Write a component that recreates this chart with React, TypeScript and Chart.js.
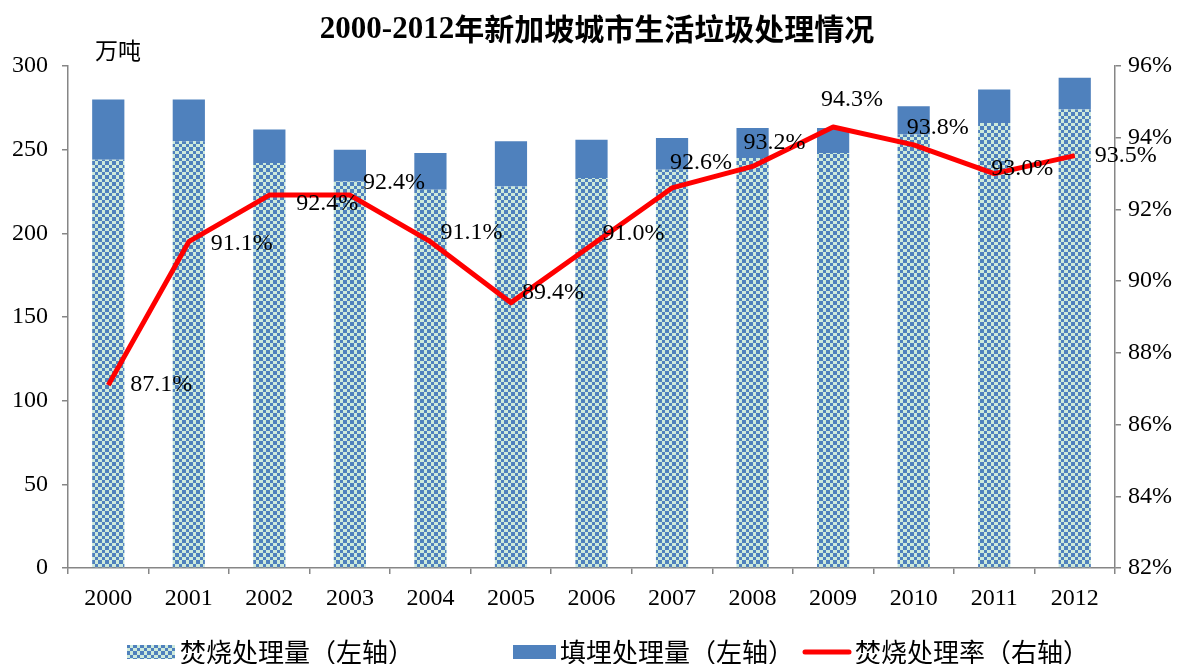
import React, { useEffect, useRef } from "react";
import { Chart, registerables } from "chart.js";

Chart.register(...registerables);

const years = ["2000", "2001", "2002", "2003", "2004", "2005", "2006", "2007", "2008", "2009", "2010", "2011", "2012"];
const incineration = [244, 255, 242, 231, 226, 228, 233, 238, 245, 248, 259, 266, 274];
const landfill = [36, 25, 20, 19, 22, 27, 23, 19, 18, 15, 17, 20, 19];
const incinerationRate = [87.1, 91.1, 92.4, 92.4, 91.1, 89.4, 91.0, 92.6, 93.2, 94.3, 93.8, 93.0, 93.5];

const titleYears = "2000-2012";
const titleText = "年新加坡城市生活垃圾处理情况";
const unitLabel = "万吨";
const seriesNames = ["焚烧处理量（左轴）", "填埋处理量（左轴）", "焚烧处理率（右轴）"];

// label placement relative to each line point (dx, dy) in px
const labelOffsets: [number, number][] = [
  [22, 0], [22, 2], [27, 9], [13, -12], [10, -9], [11, -10], [11, -12],
  [-2, -25], [-9, -24], [-12, -27], [-7, -17], [-3, -5], [20, 0],
];

const SERIF = '"Liberation Serif", "Times New Roman", serif';
const CJK = '"Noto Sans CJK SC", "Noto Sans CJK JP", sans-serif';
const BLUE = "#4f81bd";
const LIGHT = "#cdeadb";
const RED = "#ff0000";
const AXIS = "#868686";

function makePattern(ctx: CanvasRenderingContext2D) {
  const c = document.createElement("canvas");
  c.width = 14;
  c.height = 14;
  const p = c.getContext("2d")!;
  p.fillStyle = LIGHT;
  p.fillRect(0, 0, 14, 14);
  p.fillStyle = BLUE;
  const edges = [0, 4, 7, 11, 14];
  for (let i = 0; i < 4; i++) {
    for (let j = 0; j < 4; j++) {
      if ((i + j) % 2 === 0) {
        p.fillRect(edges[i], edges[j], edges[i + 1] - edges[i], edges[j + 1] - edges[j]);
      }
    }
  }
  return ctx.createPattern(c, "repeat")!;
}

export default function App() {
  const ref = useRef<HTMLCanvasElement>(null);

  useEffect(() => {
    const canvas = ref.current!;
    const ctx = canvas.getContext("2d")!;
    const pattern = makePattern(ctx);

    const decorPlugin = {
      id: "decor",
      afterDraw(chart: any) {
        const c = chart.ctx as CanvasRenderingContext2D;
        c.save();
        // title (serif digits + CJK)
        c.fillStyle = "#000";
        c.textBaseline = "middle";
        c.textAlign = "left";
        const f1 = "bold 31px " + SERIF;
        const f2 = "bold 30px " + CJK;
        c.font = f1;
        const w1 = c.measureText(titleYears).width;
        c.font = f2;
        const w2 = c.measureText(titleText).width;
        const x0 = 597 - (w1 + w2) / 2;
        c.font = f1;
        c.fillText(titleYears, x0, 30);
        c.font = f2;
        c.fillText(titleText, x0 + w1, 29);
        // unit
        c.font = "23px " + CJK;
        c.fillText(unitLabel, 95, 50);
        // legend
        const ly = 652;
        c.font = "26px " + CJK;
        c.fillStyle = pattern;
        c.fillRect(127, ly - 7, 48, 14);
        c.fillStyle = "#000";
        c.fillText(seriesNames[0], 180, ly);
        c.fillStyle = BLUE;
        c.fillRect(513, ly - 7, 43, 14);
        c.fillStyle = "#000";
        c.fillText(seriesNames[1], 560, ly);
        c.strokeStyle = RED;
        c.lineWidth = 5;
        c.lineCap = "round";
        c.beginPath();
        c.moveTo(805, ly);
        c.lineTo(849, ly);
        c.stroke();
        c.fillText(seriesNames[2], 855, ly);
        c.restore();
      },
      afterDatasetsDraw(chart: any) {
        const c = chart.ctx as CanvasRenderingContext2D;
        const meta = chart.getDatasetMeta(2);
        c.save();
        c.fillStyle = "#000";
        c.font = "24px " + SERIF;
        c.textAlign = "left";
        c.textBaseline = "middle";
        meta.data.forEach((pt: any, i: number) => {
          const [dx, dy] = labelOffsets[i];
          c.fillText(incinerationRate[i].toFixed(1) + "%", pt.x + dx, pt.y + dy);
        });
        c.restore();
      },
    };

    const gridCfg = {
      drawOnChartArea: false,
      drawTicks: true,
      tickLength: 6,
      color: AXIS,
      lineWidth: 1.5,
    };
    const tickFont = { family: SERIF, size: 24 };

    const chart = new Chart(ctx, {
      type: "bar",
      data: {
        labels: years,
        datasets: [
          {
            type: "bar",
            label: seriesNames[0],
            data: incineration,
            backgroundColor: pattern as any,
            yAxisID: "y",
            order: 2,
            barPercentage: 0.4,
            categoryPercentage: 1,
          },
          {
            type: "bar",
            label: seriesNames[1],
            data: landfill,
            backgroundColor: BLUE,
            yAxisID: "y",
            order: 2,
            barPercentage: 0.4,
            categoryPercentage: 1,
          },
          {
            type: "line",
            label: seriesNames[2],
            data: incinerationRate,
            borderColor: RED,
            borderWidth: 5,
            pointRadius: 0,
            tension: 0,
            yAxisID: "y2",
            order: 0,
            borderJoinStyle: "round",
          } as any,
        ],
      },
      options: {
        responsive: false,
        animation: false,
        layout: { padding: { top: 66, left: 0, right: 0, bottom: 0 } },
        plugins: {
          legend: { display: false },
          title: { display: false },
          tooltip: { enabled: false },
        },
        scales: {
          x: {
            stacked: true,
            offset: true,
            grid: { ...gridCfg, offset: true },
            border: { color: AXIS, width: 1.5 },
            ticks: { font: tickFont, color: "#000", padding: 10, maxRotation: 0 },
            afterFit(scale: any) {
              scale.height = 96;
            },
          },
          y: {
            stacked: true,
            position: "left",
            min: 0,
            max: 300,
            grid: gridCfg,
            border: { color: AXIS, width: 1.5 },
            ticks: { stepSize: 50, font: tickFont, color: "#000", padding: 14 },
            afterFit(scale: any) {
              scale.width = 68;
            },
          },
          y2: {
            position: "right",
            min: 82,
            max: 96,
            grid: gridCfg,
            border: { color: AXIS, width: 1.5 },
            ticks: {
              stepSize: 2,
              font: tickFont,
              color: "#000",
              padding: 7,
              callback: (v: any) => v + "%",
            },
            afterFit(scale: any) {
              scale.width = 69;
            },
          },
        },
      } as any,
      plugins: [decorPlugin],
    });

    return () => chart.destroy();
  }, []);

  return (
    <div style={{ position: "absolute", left: 0, top: 0, width: 1184, height: 664, background: "#fff" }}>
      <canvas ref={ref} width={1184} height={664} style={{ display: "block" }} />
    </div>
  );
}
